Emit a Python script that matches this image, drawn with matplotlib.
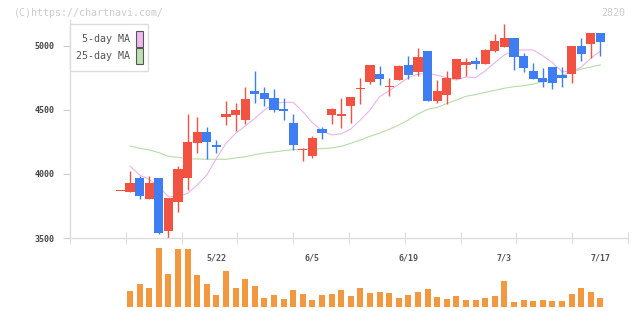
import matplotlib
matplotlib.use("Agg")
import matplotlib.pyplot as plt
from matplotlib.patches import Rectangle
import numpy as np

# daily candles, oldest first
opens = [3870, 3862, 3969, 3805, 3969, 3557, 3784, 3971, 4245, 4328, 4227, 4448, 4464,
         4424, 4648, 4633, 4594, 4508, 4398, 4190, 4141, 4352, 4461, 4453, 4531, 4664,
         4719, 4781, 4680, 4734, 4852, 4797, 4961, 4570, 4617, 4742, 4852, 4883, 4859,
         4961, 4992, 5063, 4922, 4805, 4750, 4836, 4773, 4781, 5000, 5016, 5102]
highs = [3870, 4023, 3984, 3984, 3969, 3812, 4062, 4469, 4445, 4367, 4266, 4570, 4555,
         4680, 4805, 4680, 4664, 4594, 4469, 4203, 4297, 4367, 4516, 4594, 4602, 4750,
         4852, 4844, 4750, 4852, 4922, 4984, 4961, 4734, 4805, 4898, 4906, 4914, 4977,
         5094, 5172, 5063, 4945, 4867, 4828, 4836, 4836, 5000, 5063, 5102, 5102]
lows = [3870, 3862, 3805, 3805, 3529, 3500, 3706, 3875, 4167, 4117, 4167, 4383, 4336,
        4393, 4555, 4531, 4484, 4422, 4188, 4104, 4125, 4273, 4391, 4359, 4398, 4547,
        4703, 4695, 4609, 4734, 4742, 4766, 4570, 4555, 4547, 4742, 4766, 4820, 4859,
        4953, 4992, 4813, 4797, 4742, 4680, 4664, 4680, 4711, 4883, 4906, 4922]
closes = [3870, 3930, 3830, 3930, 3541, 3812, 4039, 4250, 4328, 4252, 4211, 4469, 4500,
          4586, 4627, 4586, 4500, 4492, 4227, 4195, 4281, 4320, 4508, 4469, 4602, 4672,
          4852, 4742, 4688, 4844, 4773, 4914, 4570, 4648, 4750, 4898, 4875, 4859, 4969,
          5039, 5063, 4914, 4828, 4742, 4719, 4711, 4750, 5000, 4938, 5102, 5031]
volumes = [0, 47, 68, 56, 177, 98, 173, 173, 95, 68, 35, 107, 56, 83, 62, 26, 35, 23, 50,
           38, 20, 35, 38, 50, 32, 56, 41, 44, 41, 26, 35, 44, 53, 29, 23, 32, 20, 20, 26,
           32, 77, 14, 20, 17, 20, 17, 17, 38, 56, 44, 26]
ma5 = [np.nan, 4062, 3992, 3958, 3901, 3823, 3823, 3849, 3914, 3992, 4122, 4240, 4318,
       4375, 4435, 4500, 4552, 4560, 4560, 4487, 4401, 4336, 4305, 4313, 4352, 4422,
       4500, 4604, 4651, 4701, 4753, 4779, 4787, 4771, 4752, 4734, 4758, 4753, 4805,
       4870, 4930, 4966, 4969, 4969, 4924, 4870, 4800, 4800, 4834, 4904, 4961]
ma25 = [np.nan, 4219, 4201, 4188, 4167, 4138, 4130, 4120, 4117, 4115, 4115, 4115, 4125,
        4135, 4151, 4164, 4172, 4182, 4190, 4193, 4193, 4198, 4203, 4216, 4240, 4266,
        4294, 4320, 4349, 4383, 4422, 4469, 4505, 4521, 4550, 4578, 4607, 4620, 4638,
        4654, 4670, 4682, 4690, 4703, 4721, 4745, 4773, 4794, 4820, 4836, 4852]
label_idx = [10, 20, 30, 40, 50]
date_labels = ["5/22", "6/5", "6/19", "7/3", "7/17"]
price_ticks = [3500, 4000, 4500, 5000]

RED = "#f15241"
BLUE = "#3f7ef2"
ORANGE = "#f29841"
PINK = "#e9b5ea"
GREEN = "#b5dca8"
MONO = "DejaVu Sans Mono"

W, H = 640, 311
fig = plt.figure(figsize=(W / 100, H / 100), dpi=100)


def px_rect(x0, y0, x1, y1):
    # pixel box (top-left origin) -> figure fraction rect
    return [x0 / W, 1 - y1 / H, (x1 - x0) / W, (y1 - y0) / H]


ax = fig.add_axes(px_rect(70, 20, 628, 238))
vax = fig.add_axes(px_rect(70, 247.7, 628, 306.7))
xlim = (-5.25, 52.875)

x = np.arange(len(opens))
o = np.array(opens)
c = np.array(closes)
up = c >= o
colors = np.where(up, RED, BLUE)
bottoms = np.minimum(o, c)
heights = np.maximum(np.abs(c - o), 8)

ax.plot(x, ma25, color=GREEN, lw=0.8, zorder=1)
ax.plot(x, ma5, color=PINK, lw=0.8, zorder=1)
ax.vlines(x, lows, highs, colors=colors, lw=1.0, zorder=2)
ax.bar(x, heights, bottom=bottoms, width=0.94, color=colors, linewidth=0, zorder=3)

ax.set_xlim(xlim)
ax.set_ylim(3500, 5203)
for s in ["top", "right"]:
    ax.spines[s].set_visible(False)
for s in ["left", "bottom"]:
    ax.spines[s].set_color("#dddddd")
    ax.spines[s].set_linewidth(1)
ax.set_yticks(price_ticks)
ax.set_yticklabels([str(v) for v in price_ticks], fontfamily=MONO, fontsize=6,
                   fontweight="bold", color="#444444")
ax.tick_params(axis="y", length=5, color="#cccccc", pad=6)
ax.set_xticks(np.linspace(xlim[0], xlim[1], 11))
ax.set_xticklabels([])
ax.tick_params(axis="x", which="major", direction="inout", length=8, color="#dddddd")
ax.set_xticks(label_idx, minor=True)
ax.set_xticklabels(date_labels, minor=True, fontfamily=MONO, fontsize=6,
                   fontweight="bold", color="#555555")
ax.tick_params(axis="x", which="minor", length=0, pad=11)

vax.bar(x, volumes, width=0.62, color=ORANGE, linewidth=0)
vax.set_xlim(xlim)
vax.set_ylim(0, max(volumes))
vax.axis("off")
vax.patch.set_alpha(0)

# legend box
fig.add_artist(Rectangle((70 / W, 1 - 71 / H), 78 / W, 47 / H, transform=fig.transFigure,
                         facecolor="white", edgecolor="#dddddd", lw=1, zorder=5))
for name, col, y0 in [("5-day MA", "#efb9ef", 31), ("25-day MA", "#bfe0b1", 48)]:
    fig.add_artist(Rectangle((136 / W, 1 - (y0 + 15.5) / H), 6.5 / W, 15.5 / H,
                             transform=fig.transFigure, facecolor=col,
                             edgecolor="#555555", lw=0.8, zorder=6))
    fig.text(129.5 / W, 1 - (y0 + 8) / H, name, ha="right", va="center",
             fontfamily=MONO, fontsize=7.2, color="#555555", zorder=6)

fig.text(14 / W, 1 - 12.5 / H, "(C)https://chartnavi.com/", ha="left", va="center",
         fontfamily=MONO, fontsize=7.2, color="#cccccc")
fig.text(625 / W, 1 - 12.5 / H, "2820", ha="right", va="center",
         fontfamily=MONO, fontsize=7.2, color="#cccccc")

fig.savefig("out.png", dpi=100)
plt.close(fig)
